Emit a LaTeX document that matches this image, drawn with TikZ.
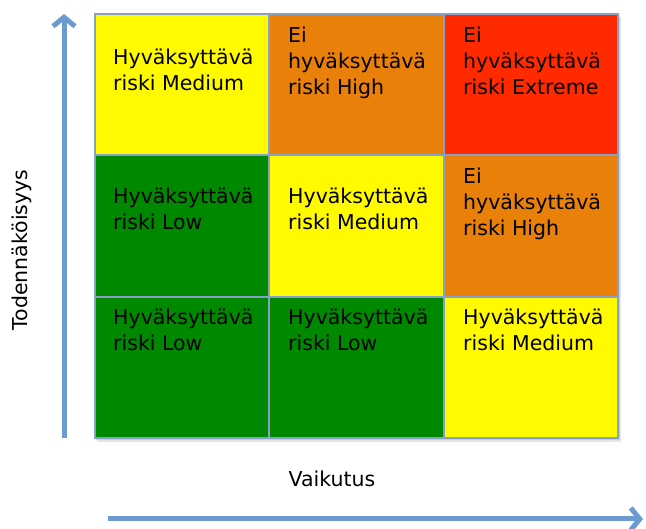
\documentclass[tikz,border=0pt]{standalone}
\usepackage{fontspec}
\setmainfont{DejaVu Sans}
\usetikzlibrary{arrows.meta}
\definecolor{cyel}{RGB}{255,250,0}
\definecolor{corg}{RGB}{232,128,10}
\definecolor{cred}{RGB}{255,42,0}
\definecolor{cgrn}{RGB}{0,136,0}
\definecolor{cedge}{RGB}{135,160,200}
\definecolor{carrow}{RGB}{108,155,210}
\begin{document}
\begin{tikzpicture}[x=1pt,y=-1pt,
  cell/.style={draw=cedge, line width=1.2pt},
  lbl/.style={anchor=base west, align=left, inner sep=0pt, font=\fontsize{20.5}{26}\selectfont, text=black},
  axlbl/.style={inner sep=0pt, font=\fontsize{20.5}{26}\selectfont, text=black},
  axis/.style={draw=carrow, line width=5pt, -{Straight Barb[length=9pt,width=22pt]}}]
\useasboundingbox (0,0) rectangle (646,529);
% shadow
\fill[black, opacity=0.10] (97,17) rectangle (621,442);
\fill[black, opacity=0.10] (96,15) rectangle (620,440);
% cells
\fill[cyel] (95,14) rectangle (269,155);
\fill[corg] (269,14) rectangle (444,155);
\fill[cred] (444,14) rectangle (618,155);
\fill[cgrn] (95,155) rectangle (269,297);
\fill[cyel] (269,155) rectangle (444,297);
\fill[corg] (444,155) rectangle (618,297);
\fill[cgrn] (95,297) rectangle (269,438);
\fill[cgrn] (269,297) rectangle (444,438);
\fill[cyel] (444,297) rectangle (618,438);
\draw[cell] (95,14) rectangle (618,438);
\draw[cell] (269,14) -- (269,438) (444,14) -- (444,438)
            (95,155) -- (618,155) (95,297) -- (618,297);
% texts (base = baseline of the last line)
\node[lbl] (c11) at (113,91) {Hyväksyttävä\\riski Medium};
\node[lbl] (c12) at (288,95) {Ei\\hyväksyttävä\\riski High};
\node[lbl] (c13) at (463,95) {Ei\\hyväksyttävä\\riski Extreme};
\node[lbl] (c21) at (113,230) {Hyväksyttävä\\riski Low};
\node[lbl] (c22) at (288,230) {Hyväksyttävä\\riski Medium};
\node[lbl] (c23) at (463,236) {Ei\\hyväksyttävä\\riski High};
\node[lbl] (c31) at (113,351) {Hyväksyttävä\\riski Low};
\node[lbl] (c32) at (288,351) {Hyväksyttävä\\riski Low};
\node[lbl] (c33) at (463,351) {Hyväksyttävä\\riski Medium};
% axes
\coordinate (ys) at (64,438);
\coordinate (ye) at (64,14);
\coordinate (xs) at (108,519);
\coordinate (xe) at (643,519);
\draw[axis] (ys) -- (ye);
\draw[axis] (xs) -- (xe);
\node[axlbl, rotate=90] (ylab) at (22,250) {Todennäköisyys};
\node[axlbl] (xlab) at (332,479) {Vaikutus};
\end{tikzpicture}
\end{document}
